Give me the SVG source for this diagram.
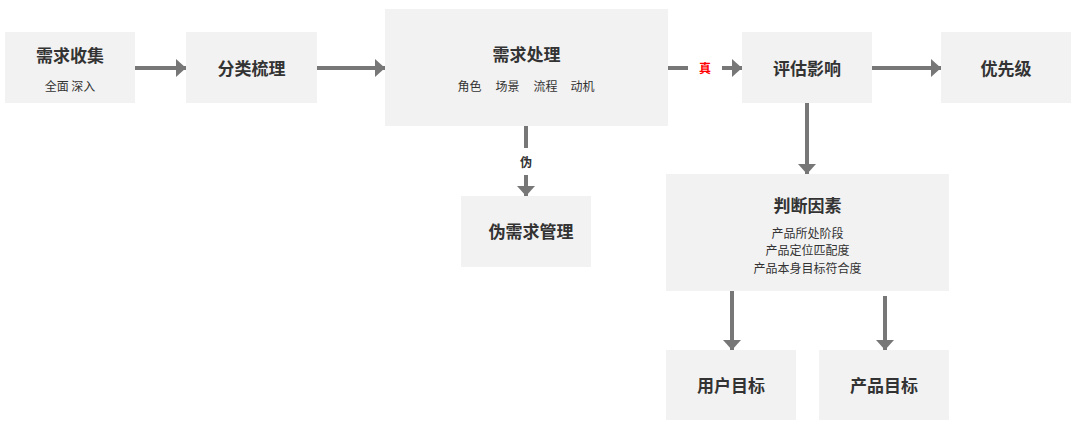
<svg xmlns="http://www.w3.org/2000/svg" width="1080" height="432" viewBox="0 0 1080 432">
<style>
.box{fill:#f2f2f2}
.t{font-family:"Noto Sans CJK SC","Noto Sans",sans-serif;font-size:17px;font-weight:bold;fill:#333;text-anchor:middle;dominant-baseline:central}
.s{font-family:"Noto Sans CJK SC","Noto Sans",sans-serif;font-size:12px;fill:#333;text-anchor:middle;dominant-baseline:central}
.lbl{font-family:"Noto Sans CJK SC","Noto Sans",sans-serif;font-size:12px;font-weight:bold;text-anchor:middle;dominant-baseline:central}
.c{stroke:#777;stroke-width:4;fill:none}
</style>
<defs>
<marker id="ah" markerUnits="userSpaceOnUse" markerWidth="10" markerHeight="18" refX="10" refY="9" orient="auto">
<path d="M0,0 L10,9 L0,18 z" fill="#777"/>
</marker>
</defs>
<rect width="1080" height="432" fill="#fff"/>
<g id="connectors">
<line class="c" x1="135" y1="68" x2="186" y2="68" marker-end="url(#ah)"/>
<line class="c" x1="317" y1="68" x2="385" y2="68" marker-end="url(#ah)"/>
<line class="c" x1="668" y1="68" x2="688" y2="68"/>
<line class="c" x1="722" y1="68" x2="742" y2="68" marker-end="url(#ah)"/>
<line class="c" x1="872" y1="68" x2="941" y2="68" marker-end="url(#ah)"/>
<line class="c" x1="807" y1="103" x2="807" y2="174" marker-end="url(#ah)"/>
<line class="c" x1="526" y1="126" x2="526" y2="148"/>
<line class="c" x1="526" y1="175" x2="526" y2="196" marker-end="url(#ah)"/>
<line class="c" x1="732" y1="291" x2="732" y2="350" marker-end="url(#ah)"/>
<line class="c" x1="885" y1="296" x2="885" y2="350" marker-end="url(#ah)"/>
<text class="lbl" x="705" y="67" fill="#ff0000">真</text>
<text class="lbl" x="526" y="161" fill="#333">伪</text>
</g>
<g id="n1"><rect class="box" x="5" y="32" width="130" height="71"/><text class="t" x="70" y="54">需求收集</text><text class="s" x="70" y="85">全面 深入</text></g>
<g id="n2"><rect class="box" x="186" y="32" width="131" height="71"/><text class="t" x="251.5" y="67">分类梳理</text></g>
<g id="n3"><rect class="box" x="385" y="9" width="283" height="117"/><text class="t" x="526.5" y="53">需求处理</text>
<text class="s" y="85"><tspan x="469.5">角色</tspan><tspan x="507.5">场景</tspan><tspan x="545.5">流程</tspan><tspan x="582.5">动机</tspan></text></g>
<g id="n4"><rect class="box" x="742" y="32" width="130" height="71"/><text class="t" x="807" y="67">评估影响</text></g>
<g id="n5"><rect class="box" x="941" y="32" width="130" height="71"/><text class="t" x="1006" y="67">优先级</text></g>
<g id="n6"><rect class="box" x="461" y="196" width="130" height="71"/><text class="t" x="531" y="230">伪需求管理</text></g>
<g id="n7"><rect class="box" x="666" y="174" width="283" height="117"/><text class="t" x="807.5" y="204">判断因素</text>
<text class="s" x="807.5" y="232">产品所处阶段</text><text class="s" x="807.5" y="249">产品定位匹配度</text><text class="s" x="807.5" y="267">产品本身目标符合度</text></g>
<g id="n8"><rect class="box" x="666" y="350" width="130" height="70"/><text class="t" x="731" y="384">用户目标</text></g>
<g id="n9"><rect class="box" x="819" y="350" width="130" height="70"/><text class="t" x="884" y="384">产品目标</text></g>
</svg>
